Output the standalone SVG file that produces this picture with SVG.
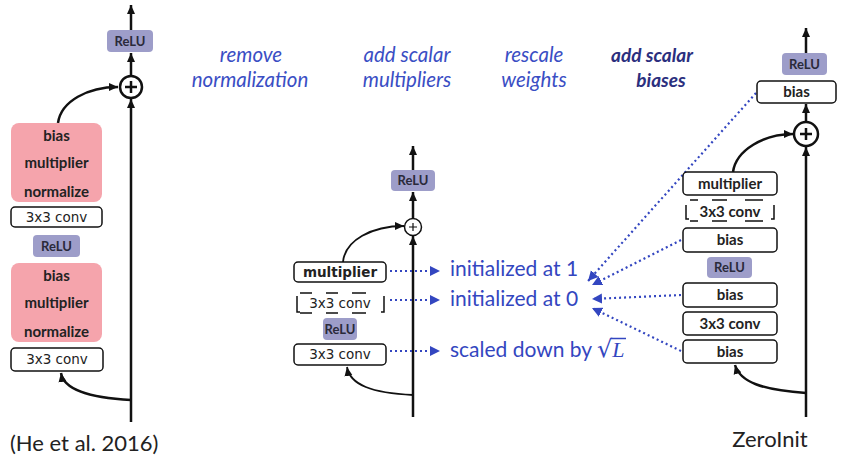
<svg xmlns="http://www.w3.org/2000/svg" width="843" height="459" viewBox="0 0 843 459">
<defs>
<marker id="ah" markerUnits="userSpaceOnUse" markerWidth="10" markerHeight="10" refX="9" refY="5" orient="auto"><path d="M0,1 L9,5 L0,9 z" fill="#111"/></marker>
<marker id="bh" markerUnits="userSpaceOnUse" markerWidth="12" markerHeight="12" refX="10" refY="6" orient="auto"><path d="M0,1 L10,6 L0,11 z" fill="#3346c0"/></marker>
<style>
.main{stroke:#111;stroke-width:2.5;fill:none}
.thin{stroke:#111;stroke-width:1.8;fill:none}
.box{fill:#fff;stroke:#111;stroke-width:1.5}
.relu{fill:#9d9dc9;stroke:none}
.pink{fill:#f5a4ac;stroke:none}
.dash{stroke:#111;stroke-width:1.5;fill:none}
.dot{stroke:#3346c0;stroke-width:2.2;stroke-dasharray:2 3;fill:none}
.lb{font-family:Lato,"Open Sans",sans-serif;font-weight:bold;font-size:15px;fill:#222;text-anchor:middle}
.cv{font-family:"DejaVu Sans",sans-serif;font-size:13.5px;fill:#222;text-anchor:middle}
.rl{font-family:Lato,"Open Sans",sans-serif;font-weight:bold;font-size:13px;fill:#2a2a3a;text-anchor:middle}
.hd{font-family:Lato,"Open Sans",sans-serif;font-style:italic;font-size:20.5px;fill:#3a4ec4;text-anchor:middle}
.hdb{font-family:Lato,"Open Sans",sans-serif;font-style:italic;font-weight:bold;font-size:19px;fill:#2b2f7e;text-anchor:middle}
.bt{font-family:Lato,"Open Sans",sans-serif;font-size:21px;fill:#3346c0}
.cap{font-family:Lato,"Open Sans",sans-serif;font-size:22px;fill:#222}
</style>
</defs>

<!-- headers -->
<g id="headers">
<text class="hd" x="251" y="62">remove</text>
<text class="hd" x="250" y="87">normalization</text>
<text class="hd" x="407" y="62">add scalar</text>
<text class="hd" x="407" y="87">multipliers</text>
<text class="hd" x="534" y="62">rescale</text>
<text class="hd" x="534" y="87">weights</text>
<text class="hdb" x="652" y="62">add scalar</text>
<text class="hdb" x="661" y="87">biases</text>
</g>

<!-- connectors -->
<g id="connectors">
<!-- left -->
<path class="main" d="M131,422 V99" marker-end="url(#ah)"/>
<path class="main" d="M131,76 V53" marker-end="url(#ah)"/>
<path class="main" d="M131,30 V5" marker-end="url(#ah)"/>
<path class="main" d="M58,123 C61,101 88,87 118,87" marker-end="url(#ah)"/>
<path class="main" d="M131,400 C92,398 64,391 61,373" marker-end="url(#ah)"/>
<!-- middle -->
<path class="main" d="M413,417 V236" marker-end="url(#ah)"/>
<path class="main" d="M413,218 V192" marker-end="url(#ah)"/>
<path class="main" d="M413,170 V146" marker-end="url(#ah)"/>
<path class="thin" d="M343,262 C345,240 372,226 404,226" marker-end="url(#ah)"/>
<path class="thin" d="M413,395 C372,393 350,385 347,367" marker-end="url(#ah)"/>
<!-- right -->
<path class="main" d="M806,417 V147" marker-end="url(#ah)"/>
<path class="main" d="M806,122 V104" marker-end="url(#ah)"/>
<path class="main" d="M806,53 V28" marker-end="url(#ah)"/>
<path class="main" d="M733,172 C736,150 764,134 793,134" marker-end="url(#ah)"/>
<path class="main" d="M806,393 C762,390 740,382 735,365" marker-end="url(#ah)"/>
<!-- blue dotted -->
<path class="dot" d="M390,271 H440" marker-end="url(#bh)"/>
<path class="dot" d="M390,300 H440" marker-end="url(#bh)"/>
<path class="dot" d="M390,351 H440" marker-end="url(#bh)"/>
<path class="dot" d="M756,93 L588,281" marker-end="url(#bh)"/>
<path class="dot" d="M681,240 L592,285" marker-end="url(#bh)"/>
<path class="dot" d="M681,295 L592,299" marker-end="url(#bh)"/>
<path class="dot" d="M681,351 L592,308" marker-end="url(#bh)"/>
</g>

<!-- left column -->
<g id="L_relu_top"><rect class="relu" x="107" y="30" width="46" height="22" rx="4"/><text class="rl" x="130" y="46">ReLU</text></g>
<g id="L_plus"><circle cx="131" cy="87" r="11" fill="#fff" stroke="#111" stroke-width="2.5"/><path d="M125,87 H137 M131,81 V93" stroke="#111" stroke-width="2.5"/></g>
<g id="L_norm1"><rect class="pink" x="11" y="123" width="91" height="79" rx="8"/>
<text class="lb" x="56.5" y="141">bias</text><text class="lb" x="56.5" y="168">multiplier</text><text class="lb" x="56.5" y="197">normalize</text></g>
<g id="L_conv1"><rect class="box" x="11" y="207" width="91" height="20" rx="4"/><text class="cv" x="56.5" y="222">3x3 conv</text></g>
<g id="L_relu"><rect class="relu" x="33" y="235" width="47" height="22" rx="4"/><text class="rl" x="56.5" y="251">ReLU</text></g>
<g id="L_norm2"><rect class="pink" x="11" y="263" width="91" height="79" rx="8"/>
<text class="lb" x="56.5" y="281">bias</text><text class="lb" x="56.5" y="308">multiplier</text><text class="lb" x="56.5" y="337">normalize</text></g>
<g id="L_conv2"><rect class="box" x="11" y="348" width="92" height="23" rx="4"/><text class="cv" x="57" y="364">3x3 conv</text></g>
<g id="L_caption"><text class="cap" x="10" y="451">(He et al. 2016)</text></g>

<!-- middle column -->
<g id="M_relu_top"><rect class="relu" x="391" y="170" width="44" height="21" rx="4"/><text class="rl" x="413" y="185">ReLU</text></g>
<g id="M_plus"><circle cx="413" cy="227" r="8.5" fill="#fff" stroke="#111" stroke-width="1.5"/><path d="M409,227 H417 M413,223 V231" stroke="#111" stroke-width="1.2"/></g>
<g id="M_mult"><rect class="box" x="294" y="262" width="92" height="20" rx="4"/><text class="cv" x="340" y="277" font-weight="bold" font-size="12px">multiplier</text></g>
<g id="M_conv_dashed">
<path class="dash" d="M300,293 H312 M326,293 H338 M352,293 H366 M300,313 H312 M326,313 H338 M352,313 H366"/>
<path class="dash" d="M297,296 V312 H300 M384,296 V312 H381"/>
<text class="cv" x="340" y="308">3x3 conv</text></g>
<g id="M_relu"><rect class="relu" x="323" y="318" width="34" height="22" rx="4"/><text class="rl" x="340" y="334" font-size="12px">ReLU</text></g>
<g id="M_conv"><rect class="box" x="294" y="344" width="92" height="21" rx="4"/><text class="cv" x="340" y="359">3x3 conv</text></g>

<!-- annotations -->
<g id="notes">
<text class="bt" x="450" y="276">initialized at 1</text>
<text class="bt" x="450" y="306">initialized at 0</text>
<text class="bt" x="450" y="357">scaled down by <tspan font-family="'DejaVu Serif',serif" font-size="24px">√</tspan><tspan font-family="'Liberation Serif',serif" font-style="italic" font-size="22px">L</tspan></text>
<line x1="611" y1="338.5" x2="626" y2="338.5" stroke="#3346c0" stroke-width="1.5"/>
</g>

<!-- right column -->
<g id="R_relu_top"><rect class="relu" x="782" y="53" width="45" height="22" rx="4"/><text class="rl" x="804.5" y="69">ReLU</text></g>
<g id="R_bias_top"><rect class="box" x="757" y="81" width="79" height="22" rx="4" stroke-width="2"/><text class="lb" x="796.5" y="97" font-size="14px">bias</text></g>
<g id="R_plus"><circle cx="806" cy="134" r="12" fill="#fff" stroke="#111" stroke-width="2.5"/><path d="M800,134 H812 M806,128 V140" stroke="#111" stroke-width="2.5"/></g>
<g id="R_mult"><rect class="box" x="683" y="172" width="94" height="23" rx="4"/><text class="lb" x="730" y="189" font-size="14px">multiplier</text></g>
<g id="R_conv_dashed">
<path class="dash" d="M690,200 H698 M712,200 H727 M745,200 H763 M690,221 H698 M712,221 H727 M745,221 H763"/>
<path class="dash" d="M686,205 V219 H689 M774,205 V219 H771"/>
<text class="lb" x="730" y="217" font-size="14px">3x3 conv</text></g>
<g id="R_bias1"><rect class="box" x="683" y="228" width="94" height="24" rx="4"/><text class="lb" x="730" y="245" font-size="14px">bias</text></g>
<g id="R_relu"><rect class="relu" x="707" y="257" width="45" height="21" rx="4"/><text class="rl" x="729.5" y="272">ReLU</text></g>
<g id="R_bias2"><rect class="box" x="683" y="283" width="94" height="24" rx="4"/><text class="lb" x="730" y="300" font-size="14px">bias</text></g>
<g id="R_conv"><rect class="box" x="683" y="312" width="94" height="23" rx="4" stroke-width="2.5"/><text class="lb" x="730" y="329" font-size="14px">3x3 conv</text></g>
<g id="R_bias3"><rect class="box" x="683" y="340" width="94" height="23" rx="4"/><text class="lb" x="730" y="357" font-size="14px">bias</text></g>
<g id="R_caption"><text class="cap" x="770" y="447" text-anchor="middle" font-size="21px">ZeroInit</text></g>
</svg>
